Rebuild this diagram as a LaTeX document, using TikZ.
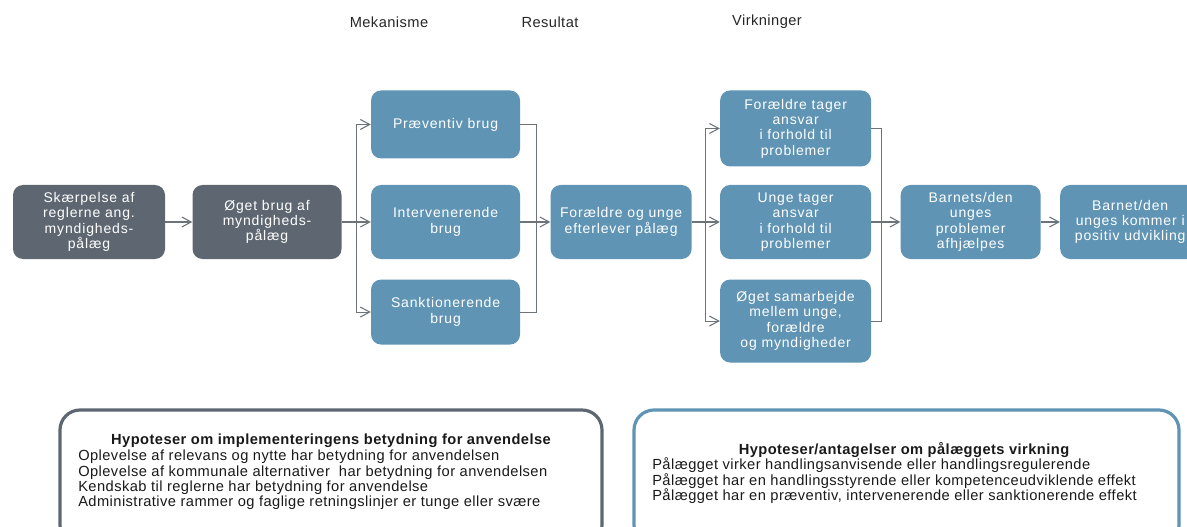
\documentclass[tikz,border=0pt]{standalone}
\usepackage{fontspec}
\setmainfont{Liberation Sans}
\newfontfamily\boxfont[LetterSpace=6]{Liberation Sans}
\newfontfamily\hypfont[LetterSpace=3]{Liberation Sans}
\usetikzlibrary{arrows.meta,positioning}
\definecolor{slate}{HTML}{5E6771}
\definecolor{steel}{HTML}{6094B4}
\definecolor{wire}{HTML}{6C737A}

\tikzset{
  stepbase/.style={rounded corners=7.5pt, align=center, text=white, inner sep=2pt,
    font=\boxfont\fontsize{10.5}{11.5}\selectfont},
  darkbox/.style={stepbase, fill=slate, minimum height=55.5pt},
  bluebox/.style={stepbase, fill=steel, minimum height=55.5pt},
  wirearrow/.style={draw=wire, line width=0.8pt, -{Straight Barb[length=7pt,width=7.5pt]}},
  wireline/.style={draw=wire, line width=0.8pt},
  hypbox/.style={rounded corners=15pt, line width=2.4pt, minimum height=101.25pt},
  hyptext/.style={align=left, font=\hypfont\fontsize{11}{11.6}\selectfont, text=black!90, inner sep=0pt},
  hyptitle/.style={hyptext, font=\hypfont\bfseries\fontsize{11}{11.6}\selectfont},
  headlabel/.style={font=\hypfont\fontsize{11}{12}\selectfont, text=black!85},
}

\begin{document}
\begin{tikzpicture}[x=0.75pt, y=-0.75pt]
  \useasboundingbox (0,0) rectangle (1187,527);

  % column headings
  \node[headlabel] (hmek) at (389,22) {Mekanisme};
  \node[headlabel] (hres) at (550,22) {Resultat};
  \node[headlabel] (hvir) at (767,22) {Virkninger};

  % main chain
  \node[darkbox, minimum width=114pt] (skaerp) at (89,222) {Skærpelse af\\reglerne ang.\\myndigheds-\\pålæg};
  \node[darkbox, minimum width=111.75pt, right=20.25pt of skaerp] (oget) {Øget brug af\\myndigheds-\\pålæg};
  \node[bluebox, minimum width=111.75pt, right=21.75pt of oget] (interv) {Intervenerende\\brug};
  \node[bluebox, minimum width=111.75pt, minimum height=51pt, above=19.5pt of interv] (praev) {Præventiv brug};
  \node[bluebox, minimum width=111.75pt, minimum height=48.75pt, below=15pt of interv] (sankt) {Sanktionerende\\brug};
  \node[bluebox, minimum width=105.75pt, right=22.5pt of interv] (efter) {Forældre og unge\\efterlever pålæg};
  \node[bluebox, minimum width=113.25pt, right=21pt of efter] (unge) {Unge tager\\ansvar\\i forhold til\\problemer};
  \node[bluebox, minimum width=113.25pt, minimum height=57pt, above=13.5pt of unge] (foraeld) {Forældre tager\\ansvar\\i forhold til\\problemer};
  \node[bluebox, minimum width=113.25pt, minimum height=62.25pt, below=15pt of unge] (samarb) {Øget samarbejde\\mellem unge,\\forældre\\og myndigheder};
  \node[bluebox, minimum width=105pt, right=21.75pt of unge] (barnets) {Barnets/den\\unges\\problemer\\afhjælpes};
  \node[bluebox, minimum width=105pt, right=14.25pt of barnets] (barnet) {Barnet/den\\unges kommer i\\positiv udvikling};

  % connectors
  \draw[wirearrow] (skaerp) -- (oget);
  \draw[wirearrow] (oget.east) -- ++(11.25pt,0) |- (praev.west);
  \draw[wirearrow] (oget.east) -- (interv.west);
  \draw[wirearrow] (oget.east) -- ++(11.25pt,0) |- (sankt.west);
  \coordinate[left=10.5pt of efter.west] (join1);
  \draw[wireline] (praev.east) -| (join1);
  \draw[wireline] (sankt.east) -| (join1);
  \draw[wirearrow] (interv.east) -- (efter.west);

  \draw[wirearrow] (efter.east) -- ++(10.5pt,0) |- (foraeld.west);
  \draw[wirearrow] (efter.east) -- (unge.west);
  \draw[wirearrow] (efter.east) -- ++(10.5pt,0) |- (samarb.west);
  \coordinate[left=14.25pt of barnets.west] (join2);
  \draw[wireline] (foraeld.east) -| (join2);
  \draw[wireline] (samarb.east) -| (join2);
  \draw[wirearrow] (unge.east) -- (barnets.west);
  \draw[wirearrow] (barnets) -- (barnet);

  % hypothesis boxes
  \node[hypbox, draw=slate, minimum width=406.5pt] (hypimpl) at (331,477.5) {};
  \node[hypbox, draw=steel, minimum width=408.75pt] (hypvirk) at (906.5,477.5) {};

  \node[hyptitle] (impltitle) at (331,441) {Hypoteser om implementeringens betydning for anvendelse};
  \node[hyptext, anchor=west] (impllist) at (78,480) {Oplevelse af relevans og nytte har betydning for anvendelsen\\
    Oplevelse af kommunale alternativer\ \ har betydning for anvendelsen\\
    Kendskab til reglerne har betydning for anvendelse\\
    Administrative rammer og faglige retningslinjer er tunge eller svære};

  \node[hyptitle] (virktitle) at (904,450) {Hypoteser/antagelser om pålæggets virkning};
  \node[hyptext, anchor=west] (virklist) at (652,481) {Pålægget virker handlingsanvisende eller handlingsregulerende\\
    Pålægget har en handlingsstyrende eller kompetenceudviklende effekt\\
    Pålægget har en præventiv, intervenerende eller sanktionerende effekt};
\end{tikzpicture}
\end{document}
